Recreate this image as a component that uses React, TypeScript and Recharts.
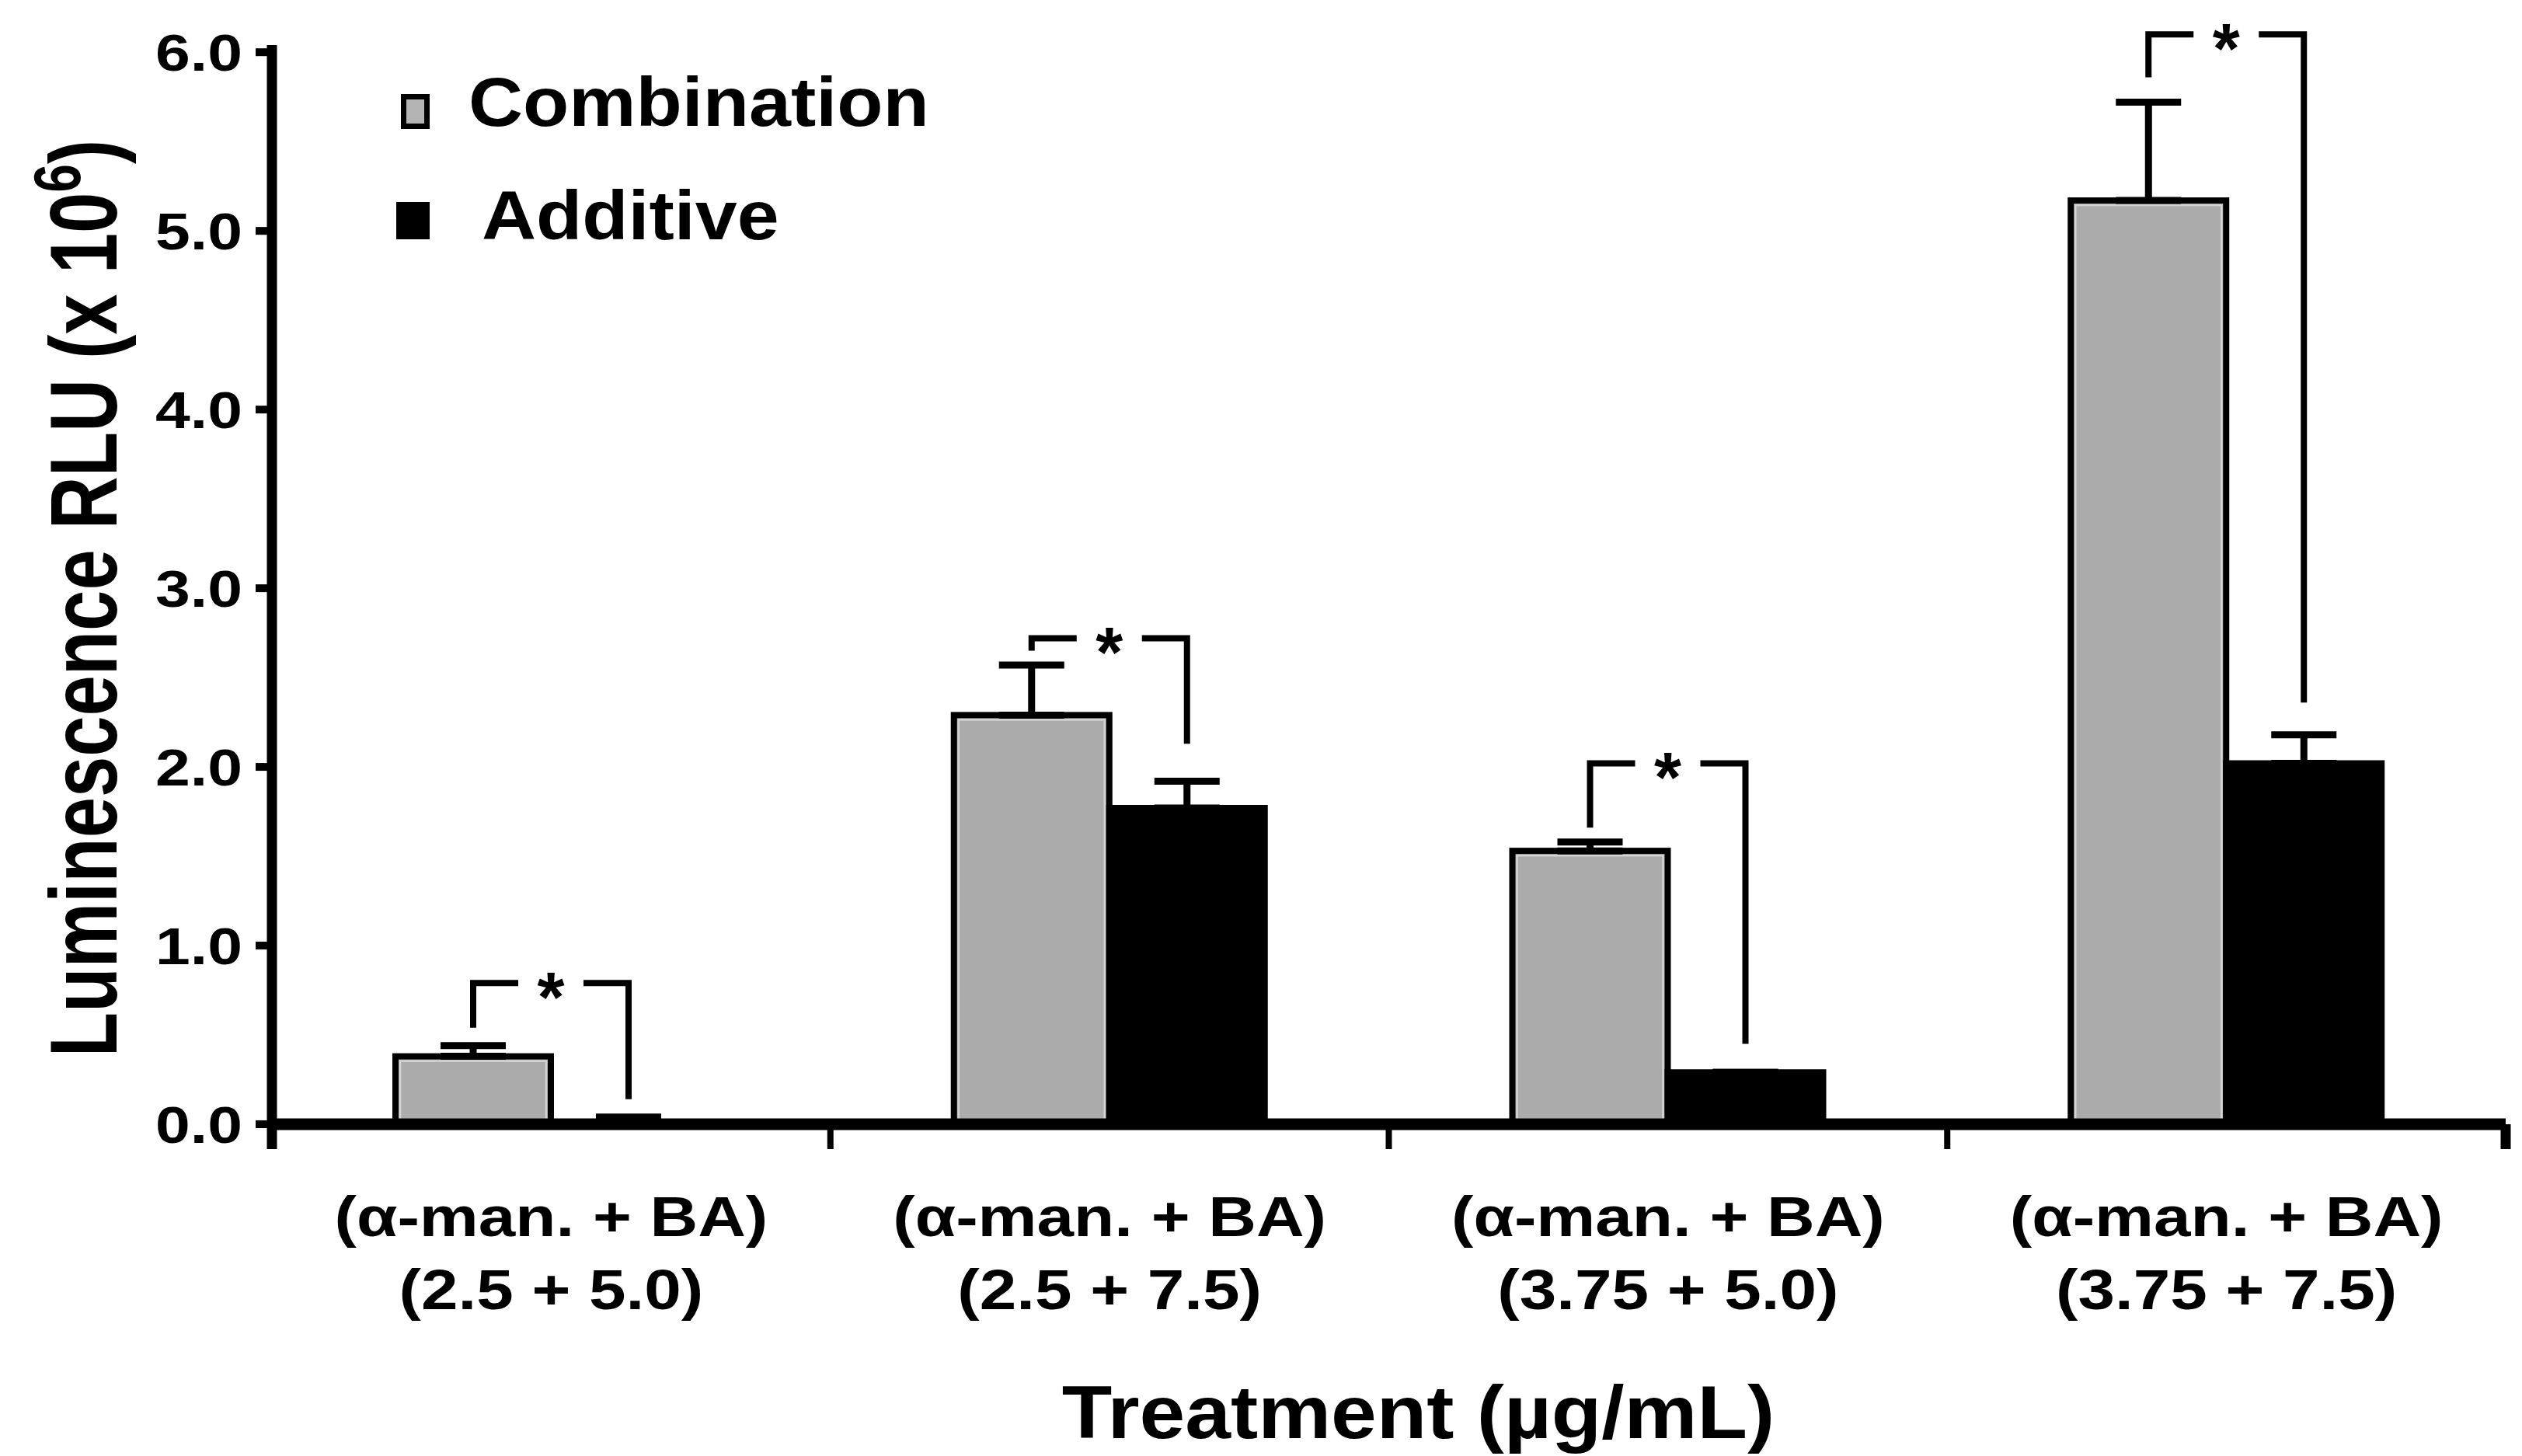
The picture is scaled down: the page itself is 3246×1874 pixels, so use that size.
import React from 'react';
import { ComposedChart, Bar, XAxis, YAxis, ErrorBar, Legend } from 'recharts';

const FONT = '"Liberation Sans", Arial, Helvetica, sans-serif';

// ---- data ----
const labelLine1 = ['(α-man. + BA)', '(α-man. + BA)', '(α-man. + BA)', '(α-man. + BA)'];
const labelLine2 = ['(2.5 + 5.0)', '(2.5 + 7.5)', '(3.75 + 5.0)', '(3.75 + 7.5)'];
const categoryPos = [0.5, 1.5, 2.5, 3.5];
const combination = [0.38, 2.29, 1.53, 5.17];
const combinationErr = [0.06, 0.28, 0.05, 0.55];
const additive = [0.01, 1.77, 0.29, 2.02];
const additiveErr = [0.03, 0.15, 0.0, 0.16];
const bracketTop = [0.79, 2.72, 2.02, 6.1];
const bracketLeftEnd = [0.54, 2.65, 1.66, 5.86];
const bracketRightEnd = [0.14, 2.13, 0.45, 2.36];
const yTicks = [0, 1, 2, 3, 4, 5, 6];
const xTicks = [0, 0.5, 1, 1.5, 2, 2.5, 3, 3.5, 4];
const seriesNames = ['Combination', 'Additive'];
const yTitle = 'Luminescence RLU (x 10';
const yTitleSup = '6';
const xTitle = 'Treatment (µg/mL)';

const data = categoryPos.map((p, i) => ({
  pos: p,
  comb: combination[i],
  add: additive[i],
  combErr: [0, combinationErr[i]],
  addErr: [0, additiveErr[i]],
  bTop: bracketTop[i],
  bLeft: bracketLeftEnd[i],
  bRight: bracketRightEnd[i],
}));

const W = 3230;
const H = 1864;
const GRAY = '#ababab';

const stretch = (x: number, s: number) => `translate(${x},0) scale(${s},1) translate(${-x},0)`;

const CombShape = (props: any) => {
  const { x, y, width, height, payload } = props;
  if (height == null || !payload) return null;
  const base = y + height;
  const ppu = height / payload.comb;
  const toY = (v: number) => base - v * ppu;
  const lx = x + width / 2;
  const rx = x + width * 1.5;
  const sx = x + width;
  const ty = toY(payload.bTop);
  return (
    <g>
      <rect x={x} y={y} width={width} height={height} fill={GRAY} stroke="#000" strokeWidth={8} />
      <rect x={x + 6} y={y + 6} width={width - 12} height={Math.max(0, height - 12)} fill="none" stroke="#d4d4d4" strokeWidth={2.5} />
      <polyline points={`${lx},${toY(payload.bLeft)} ${lx},${ty} ${sx - 42},${ty}`} fill="none" stroke="#000" strokeWidth={8} strokeLinejoin="miter" />
      <polyline points={`${sx + 42},${ty} ${rx},${ty} ${rx},${toY(payload.bRight)}`} fill="none" stroke="#000" strokeWidth={8} strokeLinejoin="miter" />
      <text x={sx} y={ty + 50} textAnchor="middle" fontSize={90} fontWeight="bold" fontFamily={FONT} fill="#000">*</text>
    </g>
  );
};

const XTick = (props: any) => {
  const { x, y, payload } = props;
  const v = payload.value;
  if (Number.isInteger(v)) {
    const end = v === 0 || v === 4;
    return <line x1={x} x2={x} y1={y} y2={y + 32} stroke="#000" strokeWidth={end ? 13 : 8} />;
  }
  const i = Math.floor(v);
  return (
    <g transform={stretch(x, 1.17)}>
      <text x={x} y={y + 144} textAnchor="middle" fontSize={73} fontWeight="bold" fontFamily={FONT} fill="#000">{labelLine1[i]}</text>
      <text x={x} y={y + 238} textAnchor="middle" fontSize={73} fontWeight="bold" fontFamily={FONT} fill="#000">{labelLine2[i]}</text>
    </g>
  );
};

const YTick = (props: any) => {
  const { x, y, payload } = props;
  return (
    <g transform={stretch(x, 1.22)}>
      <text x={x} y={y} dy="0.36em" textAnchor="end" fontSize={66} fontWeight="bold" fontFamily={FONT} fill="#000">
        {Number(payload.value).toFixed(1)}
      </text>
    </g>
  );
};

const YTitle = (p: any) => {
  const vb = p.viewBox || { x: 0 };
  const cx = vb.x + 142;
  const cy = 762;
  return (
    <text transform={`translate(${cx},${cy}) scale(1.3,1) rotate(-90)`} x={0} y={0} textAnchor="middle" fontSize={94} fontWeight="bold" fontFamily={FONT} fill="#000">
      {yTitle}
      <tspan dy={-36} fontSize={66}>{yTitleSup}</tspan>
      <tspan dy={36}>)</tspan>
    </text>
  );
};

const XTitle = (p: any) => {
  const vb = p.viewBox || { x: 0, y: 0, width: 0 };
  const cx = vb.x + vb.width / 2 + 38;
  return (
    <g transform={stretch(cx, 1.1)}>
      <text x={cx} y={vb.y + 404} textAnchor="middle" fontSize={96} fontWeight="bold" fontFamily={FONT} fill="#000">{xTitle}</text>
    </g>
  );
};

const LegendBox = () => (
  <svg width={800} height={240} style={{ display: 'block', overflow: 'visible' }}>
    <rect x={21.5} y={26.5} width={30} height={38} fill="#b4b4b4" stroke="#000" strokeWidth={7} />
    <g transform={stretch(105, 1.09)}>
      <text x={105} y={64} fontSize={89} fontWeight="bold" fontFamily={FONT} fill="#000">{seriesNames[0]}</text>
    </g>
    <rect x={12} y={162} width={43} height={48} fill="#000" />
    <g transform={stretch(122, 1.09)}>
      <text x={122} y={210} fontSize={89} fontWeight="bold" fontFamily={FONT} fill="#000">{seriesNames[1]}</text>
    </g>
  </svg>
);

export default function App() {
  return (
    <div style={{ width: W, height: H, background: '#fff' }}>
      <ComposedChart width={W} height={H} data={data} margin={{ top: 50, right: 13, bottom: 0, left: 0 }} barGap={0}>
        <XAxis
          type="number"
          dataKey="pos"
          domain={[0, 4]}
          ticks={xTicks}
          interval={0}
          height={H - 50 - 1389}
          axisLine={{ stroke: '#000', strokeWidth: 15 }}
          tickLine={false}
          tickSize={0}
          tickMargin={0}
          tick={<XTick />}
          label={{ content: (p: any) => <XTitle {...p} /> }}
        />
        <YAxis
          type="number"
          domain={[0, 6.04]}
          ticks={yTicks}
          interval={0}
          width={342}
          axisLine={{ stroke: '#000', strokeWidth: 13 }}
          tickLine={{ stroke: '#000', strokeWidth: 10 }}
          tickSize={21}
          tickMargin={17}
          tick={<YTick />}
          label={{ content: (p: any) => <YTitle {...p} /> }}
        />
        <Legend
          layout="vertical"
          align="center"
          verticalAlign="middle"
          wrapperStyle={{ left: 490, top: 90, width: 800, height: 240 }}
          content={() => <LegendBox />}
        />
        <Bar dataKey="comb" name={seriesNames[0]} barSize={200} fill={GRAY} isAnimationActive={false} shape={(p: any) => <CombShape {...p} />}>
          <ErrorBar dataKey="combErr" width={42} strokeWidth={9} stroke="#000" direction="y" isAnimationActive={false} />
        </Bar>
        <Bar dataKey="add" name={seriesNames[1]} barSize={200} fill="#000" stroke="#000" strokeWidth={8} isAnimationActive={false}>
          <ErrorBar dataKey="addErr" width={42} strokeWidth={9} stroke="#000" direction="y" isAnimationActive={false} />
        </Bar>
      </ComposedChart>
    </div>
  );
}
